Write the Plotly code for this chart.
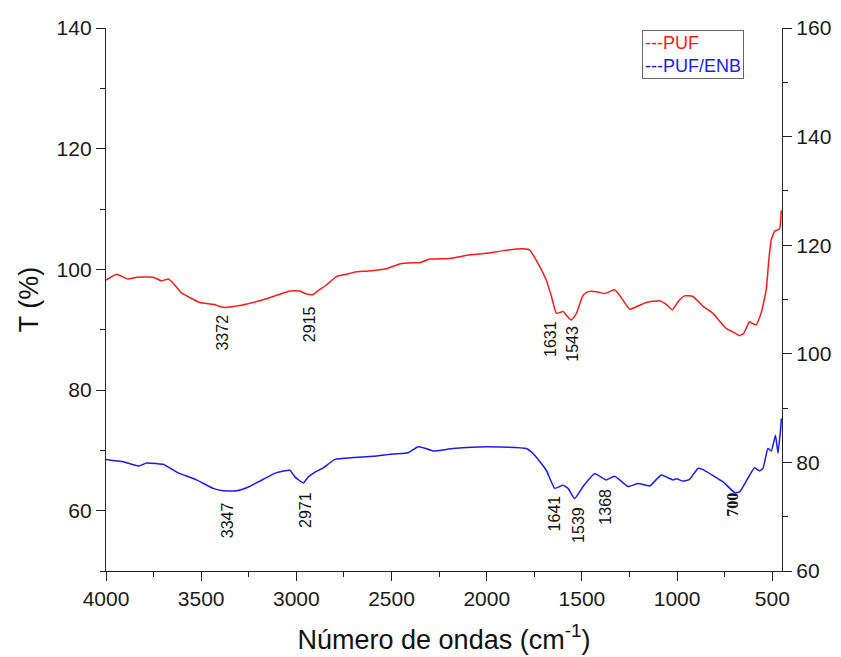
import plotly.graph_objects as go

# ---- data ----
puf_wn = [4000, 3944, 3885, 3839, 3752, 3708, 3673, 3647, 3603, 3507, 3437, 3384, 3297, 3192,
          3104, 3034, 2982, 2946, 2915, 2880, 2842, 2790, 2737, 2684, 2632, 2527, 2457, 2387,
          2352, 2299, 2194, 2089, 1984, 1914, 1809, 1774, 1731, 1687, 1660, 1634, 1599, 1582,
          1556, 1529, 1494, 1468, 1424, 1381, 1328, 1302, 1249, 1214, 1162, 1092, 1057, 1025,
          996, 961, 917, 865, 812, 742, 700, 672, 650, 620, 602, 585, 559, 532, 518, 505, 488,
          462, 453]
puf_t = [98.2, 99.2, 98.4, 98.7, 98.7, 98.1, 98.4, 97.7, 96.1, 94.5, 94.2, 93.7, 94.0, 94.8,
         95.7, 96.4, 96.4, 95.9, 95.8, 96.6, 97.4, 98.8, 99.2, 99.6, 99.7, 100.1, 100.9, 101.1,
         101.1, 101.7, 101.8, 102.4, 102.7, 103.1, 103.4, 103.2, 101.0, 98.2, 95.5, 92.7, 93.0, 92.4,
         91.6, 92.7, 95.7, 96.3, 96.3, 96.0, 96.6, 95.7, 93.4, 93.8, 94.5, 94.8, 94.2, 93.3,
         94.6, 95.6, 95.5, 93.9, 92.7, 90.2, 89.5, 89.0, 89.4, 91.3, 91.0, 90.8, 92.7, 96.6, 101.6,
         104.9, 106.3, 106.7, 109.8]

enb_wn = [4000, 3909, 3830, 3786, 3734, 3699, 3629, 3524, 3437, 3384, 3314, 3261, 3174, 3104,
          3034, 3008, 2964, 2937, 2902, 2859, 2797, 2701, 2597, 2492, 2413, 2360, 2330, 2282,
          2177, 2002, 1792, 1748, 1687, 1643, 1599, 1573, 1538, 1494, 1433, 1372, 1328, 1258,
          1205, 1144, 1083, 1022, 1004, 969, 934, 891, 865, 760, 698, 672, 593, 567, 549, 523,
          505, 483, 470, 457, 452]
enb_t = [68.5, 68.1, 67.4, 67.9, 67.8, 67.7, 66.4, 65.1, 63.7, 63.3, 63.3, 63.8, 65.2, 66.3,
         66.7, 65.6, 64.6, 65.6, 66.4, 67.1, 68.5, 68.8, 69.0, 69.4, 69.6, 70.6, 70.4, 69.9,
         70.3, 70.6, 70.3, 69.2, 66.7, 63.7, 64.2, 63.7, 62.0, 64.0, 66.1, 65.1, 65.7, 64.0,
         64.5, 64.1, 65.9, 65.1, 65.3, 64.9, 65.2, 67.0, 66.8, 64.8, 63.0, 63.1, 67.1, 66.6, 67.0,
         70.3, 69.9, 72.5, 69.5, 73.3, 75.3]

x_ticks = [4000, 3500, 3000, 2500, 2000, 1500, 1000, 500]
y_left_ticks = [60, 80, 100, 120, 140]
y_right_ticks = [60, 80, 100, 120, 140, 160]

puf_labels = ["3372", "2915", "1631", "1543"]
enb_labels = ["3347", "2971", "1641", "1539", "1368"]
enb_bold_label = "700"

# ---- figure ----
fig = go.Figure()
fig.add_trace(go.Scatter(x=puf_wn, y=puf_t, mode="lines", name="PUF",
                         line=dict(color="#ff1a1a", width=1.5, shape="spline", smoothing=0.4)))
fig.add_trace(go.Scatter(x=enb_wn, y=enb_t, mode="lines", name="PUF/ENB",
                         line=dict(color="#1a1aff", width=1.5, shape="spline", smoothing=0.4)))
# empty trace so the right-hand axis is drawn
fig.add_trace(go.Scatter(x=[None], y=[None], yaxis="y2", showlegend=False, hoverinfo="skip"))

tickfont = dict(family="Liberation Sans, Arial, sans-serif", size=21, color="#1a1a1a")
axis_common = dict(showline=True, linecolor="#222", linewidth=1.3, ticks="outside",
                   ticklen=9, tickwidth=1.3, tickcolor="#222", showgrid=False, zeroline=False,
                   tickfont=tickfont, automargin=False)

fig.update_layout(
    width=841, height=657,
    margin=dict(l=106, r=59, t=28, b=86),
    paper_bgcolor="white", plot_bgcolor="white",
    showlegend=False,
    xaxis=dict(range=[4000, 449], tickvals=x_ticks, ticktext=[str(v) for v in x_ticks],
               minor=dict(dtick=250, ticklen=5, tickwidth=1.3, tickcolor="#222", ticks="outside"),
               title=dict(text="Número de ondas (cm<sup>-1</sup>)", standoff=20,
                          font=dict(family="Liberation Sans, Arial, sans-serif", size=27, color="#111")),
               **axis_common),
    yaxis=dict(range=[50, 140], tickvals=y_left_ticks,
               minor=dict(dtick=10, ticklen=5, tickwidth=1.3, tickcolor="#222", ticks="outside"),
               title=dict(text="T (%)", standoff=10,
                          font=dict(family="Liberation Sans, Arial, sans-serif", size=27, color="#111")),
               **axis_common),
    yaxis2=dict(range=[60, 160], tickvals=y_right_ticks, overlaying="y", side="right",
                minor=dict(dtick=10, ticklen=5, tickwidth=1.3, tickcolor="#222", ticks="outside"),
                **axis_common),
)

# peak labels (rotated)
lab_font = dict(family="Liberation Sans, Arial, sans-serif", size=16, color="#111")
puf_pos = [(3386, 89.5), (2934, 90.9), (1664, 88.4), (1549, 87.6)]
enb_pos = [(3365, 58.4), (2955, 60.1), (1643, 59.5), (1522, 57.6), (1381, 60.6)]
for txt, (px, py) in zip(puf_labels, puf_pos):
    fig.add_annotation(x=px, y=py, text=txt, textangle=-90, showarrow=False, font=lab_font)
for txt, (px, py) in zip(enb_labels, enb_pos):
    fig.add_annotation(x=px, y=py, text=txt, textangle=-90, showarrow=False, font=lab_font)
fig.add_annotation(x=709, y=60.9, text="<b>" + enb_bold_label + "</b>", textangle=-90, showarrow=False,
                   font=dict(family="Liberation Serif, Times New Roman, serif", size=16, color="#111"))

# legend box
fig.add_annotation(xref="paper", yref="paper", x=0.793, y=0.997, xanchor="left", yanchor="top",
                   text="<span style='color:#ff1a1a'>---PUF</span><br>"
                        "<span style='color:#1a1aff'>---PUF/ENB</span>",
                   align="left", showarrow=False, bordercolor="#666", borderwidth=1, borderpad=2,
                   bgcolor="white",
                   font=dict(family="Liberation Sans, Arial, sans-serif", size=18))

fig.write_html("out.html")
